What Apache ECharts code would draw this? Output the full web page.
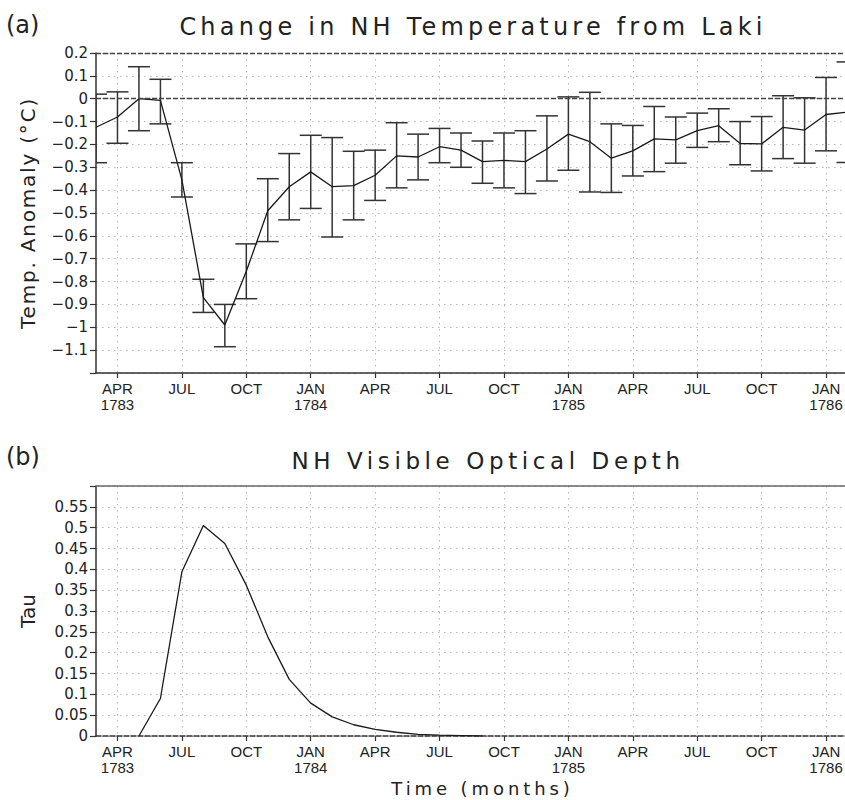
<!DOCTYPE html>
<html>
<head>
<meta charset="utf-8">
<script src="https://cdn.jsdelivr.net/npm/echarts@6/dist/echarts.min.js"></script>
<style>
  html, body { margin: 0; padding: 0; background: #fff; }
  #chart { width: 845px; height: 800px; }
</style>
</head>
<body>
<div id="chart"></div>
<script>
// Months are counted from JAN 1783 (= 0).
const tickMonths = [3, 6, 9, 12, 15, 18, 21, 24, 27, 30, 33, 36];
const tickLabels = ['APR\n1783', 'JUL', 'OCT', 'JAN\n1784', 'APR', 'JUL', 'OCT',
                    'JAN\n1785', 'APR', 'JUL', 'OCT', 'JAN\n1786'];

// Panel (a): NH temperature anomaly with its uncertainty range
const tempMonths = [2, 3, 4, 5, 6, 7, 8, 9, 10, 11, 12, 13, 14, 15, 16, 17, 18, 19,
                    20, 21, 22, 23, 24, 25, 26, 27, 28, 29, 30, 31, 32, 33, 34, 35, 36, 37];
const tempMean = [-0.125, -0.08, 0.0, -0.007, -0.355, -0.87, -0.99, -0.755, -0.49, -0.385,
                  -0.32, -0.385, -0.38, -0.335, -0.25, -0.255, -0.21, -0.225, -0.275, -0.27,
                  -0.275, -0.22, -0.155, -0.188, -0.26, -0.228, -0.176, -0.18, -0.14, -0.118,
                  -0.196, -0.198, -0.125, -0.137, -0.069, -0.059];
const tempHigh = [0.02, 0.03, 0.14, 0.085, -0.28, -0.79, -0.90, -0.635, -0.35, -0.24,
                  -0.16, -0.17, -0.23, -0.225, -0.105, -0.155, -0.13, -0.15, -0.185, -0.15,
                  -0.14, -0.075, 0.008, 0.028, -0.11, -0.117, -0.034, -0.08, -0.063, -0.044,
                  -0.10, -0.078, 0.013, 0.004, 0.093, 0.161];
const tempLow = [-0.28, -0.195, -0.14, -0.11, -0.43, -0.935, -1.085, -0.875, -0.625, -0.53,
                 -0.48, -0.605, -0.53, -0.445, -0.39, -0.355, -0.28, -0.30, -0.37, -0.39,
                 -0.415, -0.36, -0.313, -0.408, -0.41, -0.338, -0.319, -0.282, -0.213, -0.188,
                 -0.289, -0.316, -0.262, -0.282, -0.228, -0.279];

// Panel (b): NH visible optical depth
const tauMonths = [4, 5, 6, 7, 8, 9, 10, 11, 12, 13, 14, 15, 16, 17, 18, 19, 20];
const tauValues = [0, 0.09, 0.394, 0.505, 0.462, 0.362, 0.238, 0.136, 0.079, 0.046,
                   0.027, 0.016, 0.009, 0.004, 0.002, 0.001, 0];

const titleA = 'Change in NH Temperature from Laki';
const titleB = 'NH Visible Optical Depth';
const nameTempAxis = 'Temp. Anomaly (°C)';
const nameTauAxis = 'Tau';
const nameTimeAxis = 'Time (months)';

const INK = '#222';
const GRID_DOT = { color: '#b8b8b8', width: 1, type: [1.5, 4.5] };
const SANS = 'DejaVu Sans';
const TICK_FONT = 'Liberation Sans';

const errorData = tempMonths.map((m, i) => [m, tempLow[i], tempHigh[i]]);
const meanData = tempMonths.map((m, i) => [m, tempMean[i]]);
const tauData = tauMonths.map((m, i) => [m, tauValues[i]]);

function monthLabel(v) {
  const i = tickMonths.indexOf(Math.round(v));
  return i < 0 ? '' : tickLabels[i];
}

function xAxisFor(gridIndex, dashedLine, name) {
  return {
    type: 'value', gridIndex, min: 2, max: 38,
    name: name || '',
    nameLocation: 'middle', nameGap: 43,
    nameTextStyle: { fontFamily: SANS, fontSize: 18, color: INK },
    axisLine: { show: true, onZero: false,
      lineStyle: { color: '#333', width: 1.5, type: dashedLine ? [5, 2] : 'solid' } },
    axisTick: { show: true, inside: false, length: 5, customValues: tickMonths,
      lineStyle: { color: '#333', width: 1.2 } },
    axisLabel: { customValues: tickMonths, formatter: monthLabel, margin: 7,
      fontFamily: TICK_FONT, fontSize: 15, lineHeight: 16, color: INK },
    splitLine: { show: true, lineStyle: GRID_DOT }
  };
}

const option = {
  animation: false,
  backgroundColor: '#fff',
  grid: [
    { left: 96, top: 53, width: 773, height: 320, outerBoundsMode: 'none', containLabel: false },
    { left: 96, top: 486, width: 773, height: 250, outerBoundsMode: 'none', containLabel: false }
  ],
  xAxis: [xAxisFor(0, false), xAxisFor(1, true, nameTimeAxis)],
  yAxis: [
    {
      type: 'value', gridIndex: 0, min: -1.2, max: 0.2, interval: 0.1,
      name: nameTempAxis, nameLocation: 'middle', nameRotate: 90, nameGap: 58,
      nameTextStyle: { fontFamily: SANS, fontSize: 20, color: INK },
      axisLine: { show: true, lineStyle: { color: '#333', width: 1.5 } },
      axisTick: { show: true, inside: false, length: 6, lineStyle: { color: '#333', width: 1.2 } },
      axisLabel: {
        margin: 8, fontFamily: SANS, fontSize: 15, color: INK,
        formatter: v => (v < -1.15 ? '' : String(Math.round(v * 10) / 10).replace('-', '\u2212'))
      },
      splitLine: { show: true, lineStyle: GRID_DOT }
    },
    {
      type: 'value', gridIndex: 1, min: 0, max: 0.6, interval: 0.05,
      name: nameTauAxis, nameLocation: 'middle', nameRotate: 90, nameGap: 58,
      nameTextStyle: { fontFamily: SANS, fontSize: 20, color: INK },
      axisLine: { show: true, lineStyle: { color: '#333', width: 1.5 } },
      axisTick: { show: true, inside: false, length: 6, lineStyle: { color: '#333', width: 1.2 } },
      axisLabel: {
        margin: 8, fontFamily: SANS, fontSize: 15, color: INK,
        formatter: v => (v > 0.575 ? '' : String(Math.round(v * 100) / 100))
      },
      splitLine: { show: true, lineStyle: GRID_DOT }
    }
  ],
  graphic: [
    { type: 'text', left: 6, top: 13, style: { text: '(a)', font: '24px "DejaVu Sans"', fill: INK } },
    { type: 'text', left: 6, top: 445, style: { text: '(b)', font: '24px "DejaVu Sans"', fill: INK } },
    { type: 'text', x: 473, y: 27,
      style: { text: titleA, font: '24px "DejaVu Sans"', fill: INK, align: 'center', verticalAlign: 'middle' } },
    { type: 'text', x: 488, y: 461,
      style: { text: titleB, font: '23px "DejaVu Sans"', fill: INK, align: 'center', verticalAlign: 'middle' } }
  ],
  series: [
    {
      // uncertainty bars with caps
      type: 'custom', xAxisIndex: 0, yAxisIndex: 0, clip: true,
      encode: { x: 0, y: [1, 2] },
      data: errorData,
      renderItem: (params, api) => {
        const x = api.value(0);
        const lo = api.coord([x, api.value(1)]);
        const hi = api.coord([x, api.value(2)]);
        const cap = 11;
        const st = { stroke: '#333', lineWidth: 1.5 };
        return {
          type: 'group',
          children: [
            { type: 'line', shape: { x1: lo[0], y1: lo[1], x2: hi[0], y2: hi[1] }, style: st },
            { type: 'line', shape: { x1: hi[0] - cap, y1: hi[1], x2: hi[0] + cap, y2: hi[1] }, style: st },
            { type: 'line', shape: { x1: lo[0] - cap, y1: lo[1], x2: lo[0] + cap, y2: lo[1] }, style: st }
          ]
        };
      },
      z: 3
    },
    {
      type: 'line', xAxisIndex: 0, yAxisIndex: 0, data: meanData,
      symbol: 'none', lineStyle: { color: '#1a1a1a', width: 1.3 }, z: 4,
      markLine: {
        silent: true, symbol: 'none', label: { show: false },
        lineStyle: { color: '#444', width: 1.3, type: [5, 2] },
        data: [{ yAxis: 0 }, { yAxis: 0.2 }]
      }
    },
    {
      type: 'line', xAxisIndex: 1, yAxisIndex: 1, data: tauData,
      symbol: 'none', lineStyle: { color: '#1a1a1a', width: 1.3 }, z: 4,
      markLine: {
        silent: true, symbol: 'none', label: { show: false },
        lineStyle: { color: '#666', width: 1.5, type: 'solid' },
        data: [{ yAxis: 0.6 }]
      }
    }
  ]
};

const chart = echarts.init(document.getElementById('chart'), null, { renderer: 'svg', width: 845, height: 800 });
chart.setOption(option);

// Wide letter spacing for titles and axis names
const letterSpacing = {};
letterSpacing[titleA] = 4.2;
letterSpacing[titleB] = 4.6;
letterSpacing[nameTimeAxis] = 3.9;
letterSpacing[nameTempAxis] = 1.8;
function applySpacing() {
  document.querySelectorAll('#chart svg text').forEach(t => {
    const s = letterSpacing[t.textContent];
    if (s != null) t.style.letterSpacing = s + 'px';
  });
}
applySpacing();
chart.on('finished', applySpacing);
</script>
</body>
</html>
